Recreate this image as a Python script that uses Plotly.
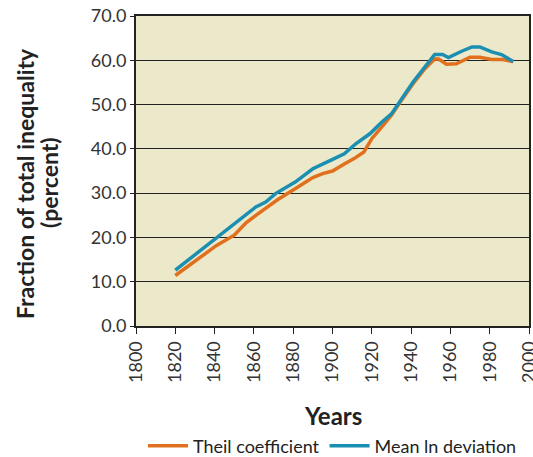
import plotly.graph_objects as go

theil_years = [1820, 1836, 1841, 1850, 1856, 1861, 1872, 1881, 1890, 1895, 1900, 1906, 1911, 1916, 1920,
               1925, 1930, 1935, 1941, 1947, 1952, 1954, 1958, 1963, 1970, 1975, 1981, 1986, 1992]
theil_vals = [11.4, 16.7, 18.2, 20.5, 23.3, 25.0, 28.5, 31.0, 33.5, 34.4, 35.0, 36.6, 37.8, 39.3, 42.3,
              44.9, 47.6, 50.9, 54.7, 58.1, 60.3, 60.3, 59.1, 59.2, 60.7, 60.7, 60.2, 60.2, 59.7]

mld_years = [1820, 1841, 1851, 1856, 1861, 1866, 1871, 1881, 1890, 1899, 1906, 1912, 1919, 1925, 1930,
             1941, 1947, 1952, 1956, 1959, 1966, 1971, 1975, 1981, 1986, 1992]
mld_vals = [12.6, 19.9, 23.5, 25.0, 26.9, 28.0, 29.9, 32.5, 35.5, 37.4, 38.9, 41.2, 43.4, 46.0, 47.9,
            55.1, 58.5, 61.3, 61.3, 60.6, 62.1, 63.0, 63.0, 61.9, 61.3, 59.7]

x_ticks = list(range(1800, 2001, 20))
y_ticks = [0, 10, 20, 30, 40, 50, 60, 70]
x_title = "Years"
y_title_lines = ["Fraction of total inequality", "(percent)"]

FONT = "Lato"
W, H = 533, 457
ML, MR, MT, MB = 136, 4, 16, 131
PH = H - MT - MB
PW = W - ML - MR

fig = go.Figure()
fig.add_trace(go.Scatter(x=theil_years, y=theil_vals, mode="lines", name="Theil coefficient",
                         line=dict(color="#E0701E", width=3.5)))
fig.add_trace(go.Scatter(x=mld_years, y=mld_vals, mode="lines", name="Mean ln deviation",
                         line=dict(color="#1A8FB2", width=3.5)))

annotations = []
for i, (txt, xc) in enumerate(zip(y_title_lines, [25, 49])):
    annotations.append(dict(text=f"<b>{txt}</b>", xref="paper", yref="paper",
                            x=(xc - ML) / PW, y=(MT + PH - 183) / PH, xanchor="center", yanchor="middle",
                            textangle=-90, showarrow=False, font=dict(size=23, color="#222222")))
annotations.append(dict(text=f"<b>{x_title}</b>", xref="paper", yref="paper",
                        x=0.5, y=(MT + PH - 415) / PH, xanchor="center", yanchor="middle",
                        showarrow=False, font=dict(size=24, color="#222222")))

fig.update_layout(
    width=W, height=H,
    margin=dict(l=ML, r=MR, t=MT, b=MB, autoexpand=False),
    paper_bgcolor="white", plot_bgcolor="#ECE8CA",
    font=dict(family=FONT, size=18, color="#333333"),
    showlegend=True,
    annotations=annotations,
    legend=dict(orientation="h", x=0.5, xanchor="center", y=(MT + PH - 446) / PH, yanchor="middle",
                font=dict(size=18, color="#222222"), itemwidth=40, tracegroupgap=0,
                bgcolor="rgba(0,0,0,0)"),
    xaxis=dict(range=[1800, 2000], tickvals=x_ticks, tickangle=-90, ticks="outside", ticklen=6,
               tickcolor="#222222", showline=True, linecolor="#222222", linewidth=2, mirror=True,
               showgrid=False, zeroline=False, tickfont=dict(size=18, color="#333333"), automargin=False,
               ticklabeloverflow="allow"),
    yaxis=dict(range=[0, 70], tickvals=y_ticks, tickformat=".1f", ticks="outside", ticklen=4,
               tickcolor="#222222", showline=True, linecolor="#222222", linewidth=2, mirror=True,
               showgrid=True, gridcolor="#222222", gridwidth=1, zeroline=False, automargin=False,
               tickfont=dict(size=18, color="#333333")),
)
fig.write_html("out.html", config={"displayModeBar": False},
               post_script="document.body.style.margin='0px';")
